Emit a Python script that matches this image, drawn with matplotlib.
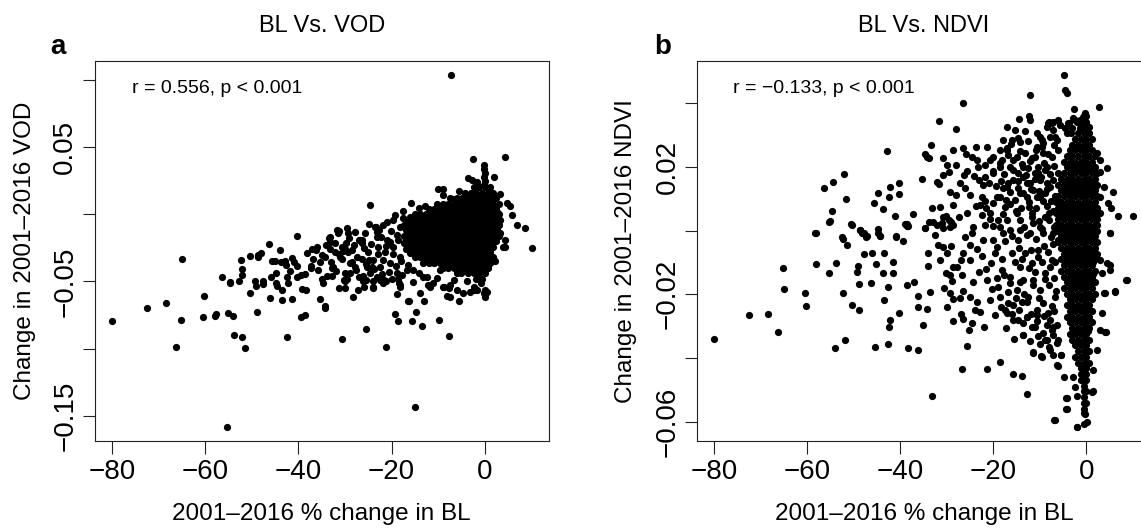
import matplotlib
matplotlib.use("Agg")
import matplotlib.pyplot as plt

plt.rcParams['font.family'] = ['Liberation Sans', 'DejaVu Sans']

# ---------------- Panel a : BL vs VOD ----------------
a_title = "BL Vs. VOD"
a_ylabel = "Change in 2001\u20132016 VOD"
a_note = "r = 0.556, p < 0.001"
a_yticks = [-0.15, -0.10, -0.05, 0.0, 0.05, 0.10]
a_yticklabels = ["\u22120.15", "", "\u22120.05", "", "0.05", ""]

a_outliers = [(-7.2, 0.1039), (-55.4, -0.158), (-14.9, -0.1436), (-80.0, -0.0794),
              (-72.5, -0.0697), (-68.5, -0.0658), (-66.3, -0.0987), (-65.2, -0.0784),
              (-65.0, -0.0335), (10.1, -0.025), (8.6, -0.0104), (4.3, 0.0429),
              (-2.6, 0.0411), (-24.6, 0.0069), (-15.8, 0.0082), (-21.1, -0.0985),
              (-30.7, -0.0926), (-25.4, -0.0851), (-42.4, -0.0913)]

a_spread = [(-60.2, -0.061), (-60.4, -0.0764), (-58.0, -0.076), (-57.8, -0.0745), (-56.4, -0.0464),
            (-55.2, -0.0733), (-54.1, -0.0757), (-54.7, -0.0501), (-54.6, -0.0513), (-53.9, -0.0898),
            (-52.1, -0.0913), (-51.4, -0.0992), (-52.7, -0.0496), (-52.4, -0.034), (-52.2, -0.0407),
            (-52.2, -0.0452), (-50.5, -0.031), (-50.5, -0.0588), (-49.4, -0.0496), (-49.2, -0.0533),
            (-49.0, -0.0729), (-48.7, -0.030), (-48.0, -0.029), (-48.6, -0.032), (-47.6, -0.050),
            (-47.6, -0.0519), (-46.3, -0.0219), (-46.2, -0.062), (-45.8, -0.0469), (-45.6, -0.0345),
            (-45.0, -0.0345), (-44.9, -0.0439), (-44.8, -0.0513), (-44.6, -0.0533), (-43.9, -0.0263),
            (-43.6, -0.0638), (-43.6, -0.0566), (-43.7, -0.0355), (-42.9, -0.0345), (-42.6, -0.038),
            (-42.5, -0.0464), (-42.2, -0.0509), (-41.8, -0.042), (-41.3, -0.0327), (-40.9, -0.0353),
            (-41.3, -0.063), (-40.3, -0.0159), (-40.3, -0.0385), (-40.4, -0.0464), (-39.2, -0.0558),
            (-38.4, -0.0566), (-39.5, -0.0764), (-38.6, -0.0747), (-38.7, -0.0446), (-37.4, -0.0387),
            (-37.3, -0.040), (-37.0, -0.026), (-36.1, -0.0241), (-36.2, -0.0266), (-35.4, -0.0357),
            (-35.4, -0.0632), (-34.9, -0.0484), (-34.7, -0.0509), (-34.3, -0.0682), (-34.2, -0.0699),
            (-34.9, -0.030), (-34.4, -0.032), (-33.9, -0.0459), (-33.5, -0.0179), (-33.2, -0.0204),
            (-33.3, -0.0258), (-32.7, -0.0397), (-32.7, -0.0457), (-31.8, -0.0117), (-31.5, -0.0141),
            (-31.2, -0.0124), (-31.4, -0.0546), (-31.2, -0.0298), (-30.5, -0.0273), (-30.0, -0.0256),
            (-29.5, -0.0104), (-29.4, -0.0137), (-29.1, -0.0179), (-29.9, -0.0494), (-29.5, -0.0479),
            (-30.0, -0.055), (-28.2, -0.0613), (-28.9, -0.0434), (-28.6, -0.0353), (-27.9, -0.039),
            (-27.3, -0.0563), (-26.8, -0.0191), (-26.4, -0.0216), (-26.1, -0.050), (-25.5, -0.0489),
            (-24.8, -0.034), (-24.3, -0.039), (-24.0, -0.055), (-23.4, -0.0097), (-23.2, -0.013),
            (-23.1, -0.0464), (-22.5, -0.0489), (-21.8, -0.0513), (-21.2, -0.050), (-19.3, -0.0742),
            (-18.6, -0.0794), (-18.8, -0.0593), (-18.7, -0.048), (-18.5, -0.051), (-18.3, -0.054),
            (-16.5, -0.0643), (-16.2, -0.0648), (-15.7, -0.0796), (-14.7, -0.0729), (-13.9, -0.0588),
            (-13.4, -0.0829), (-13.0, -0.0645), (-12.1, -0.0526), (-9.8, -0.0784), (-8.2, -0.0608),
            (-7.6, -0.055), (-7.5, -0.0526), (-7.6, -0.0903), (-5.5, -0.0643), (-1.6, -0.0563),
            (-0.1, -0.0583), (2.3, -0.0345), (4.4, -0.0246),
            (-3.5, 0.0268), (-2.8, 0.0255), (-1.7, 0.0243), (1.9, 0.028), (-10.0, 0.0186),
            (-8.9, 0.0186), (-8.9, 0.0144), (-6.9, 0.0114), (-4.2, 0.0144), (3.3, 0.0149),
            (4.7, 0.0082), (5.4, 0.0062), (5.8, -0.0005), (6.9, -0.008), (4.0, -0.0241),
            (-12.6, -0.0005), (-11.2, 0.0032), (-17.5, -0.003), (-16.0, -0.0018), (-21.8, -0.008),
            (-23.6, -0.0092), (3.3, -0.0142), (4.4, -0.0192),
            (-0.1, 0.037), (-0.1, 0.034), (0.0, 0.031), (-0.1, 0.028), (0.0, 0.025), (-0.1, 0.022),
            (-33.2, -0.0167), (-32.1, -0.0216), (-30.7, -0.0241), (-29.3, -0.0278), (-27.5, -0.0316),
            (-26.0, -0.0253), (-26.4, -0.0191), (-23.2, -0.0167), (-21.0, -0.0191), (-18.9, -0.0154),
            (-19.6, -0.0241), (-17.4, -0.0216), (-21.4, -0.0278), (-23.9, -0.034), (-25.3, -0.039),
            (-28.9, -0.0365), (-31.1, -0.0316), (-32.5, -0.039), (-30.0, -0.044), (-27.1, -0.0464),
            (-24.6, -0.044), (-22.5, -0.039), (-20.3, -0.0365), (-18.2, -0.0316), (-16.0, -0.0291),
            (-18.9, -0.044), (-16.7, -0.0415), (-21.7, -0.049), (-26.0, -0.0539), (-30.3, -0.049),
            (-23.9, -0.0539), (-18.2, -0.0527), (-15.3, -0.0502), (-11.7, -0.0539), (-8.9, -0.0539),
            (-7.4, -0.0613), (-4.6, -0.0589), (-2.4, -0.0564), (0.5, -0.0576),
            (-12.4, -0.0464), (-11.0, -0.0513), (-9.5, -0.0414), (-8.8, -0.0538), (-6.7, -0.0488),
            (-5.2, -0.0439), (-3.8, -0.05), (-2.4, -0.0538), (-0.9, -0.0513), (0.0, -0.0563),
            (0.0, -0.0612), (-10.2, -0.0476), (-5.9, -0.0563), (-3.1, -0.0575), (-1.6, -0.0464)]

a_mid = [(-34.1, -0.0232), (-33.0, -0.0355), (-31.9, -0.0420), (-30.6, -0.0332), (-29.8, -0.0214),
         (-28.4, -0.0265), (-27.7, -0.0412), (-27.0, -0.0195), (-26.3, -0.0335), (-25.8, -0.0140),
         (-25.0, -0.0281), (-24.4, -0.0222), (-23.7, -0.0410), (-23.0, -0.0296), (-22.3, -0.0172),
         (-21.8, -0.0339), (-21.1, -0.0239), (-20.6, -0.0430), (-20.1, -0.0127), (-19.6, -0.0296),
         (-19.1, -0.0385), (-18.7, -0.0195), (-18.3, -0.0093), (-20.9, -0.0057), (-19.8, -0.0042),
         (-22.6, -0.0118), (-24.9, -0.0070), (-27.9, -0.0131), (-26.2, -0.0462), (-24.1, -0.0498),
         (-22.0, -0.0442), (-19.9, -0.0481), (-17.8, -0.0455), (-16.5, -0.0378), (-15.4, -0.0412),
         (-14.2, -0.0438), (-13.3, -0.0470), (-17.9, -0.0347), (-16.9, -0.0262), (-20.4, -0.0203),
         (-22.9, -0.0245), (-25.6, -0.0368), (-28.1, -0.0229), (-32.2, -0.0281), (-35.8, -0.0418),
         (-36.9, -0.0335), (-38.1, -0.0291), (-39.4, -0.0452), (-17.6, 0.0021), (-14.1, 0.0047),
         (-10.3, 0.0078), (-7.5, 0.0120), (-5.6, 0.0175), (-12.9, 0.0061), (-19.2, -0.0005)]

a_core_rows = [
    (0.020, [-2.4, -1.2, 0.0, 1.2]),
    (0.016, [-4.2, -3.0, -1.8, -0.6, 0.6, 1.8]),
    (0.012, [-6.0, -4.8, -3.6, -2.4, -1.2, 0.0, 1.2, 2.4]),
    (0.008, [-9.0, -7.8, -6.6, -5.4, -4.2, -3.0, -1.8, -0.6, 0.6, 1.8, 3.0]),
    (0.004, [-12.0, -10.8, -9.6, -8.4, -7.2, -6.0, -4.8, -3.6, -2.4, -1.2, 0.0, 1.2, 2.4]),
    (0.000, [-15.0, -13.8, -12.6, -11.4, -10.2, -9.0, -7.8, -6.6, -5.4, -4.2, -3.0, -1.8, -0.6, 0.6, 1.8, 3.0]),
    (-0.004, [-16.8, -15.6, -14.4, -13.2, -12.0, -10.8, -9.6, -8.4, -7.2, -6.0, -4.8, -3.6, -2.4, -1.2, 0.0, 1.2, 2.4, 3.3]),
    (-0.008, [-17.4, -16.2, -15.0, -13.8, -12.6, -11.4, -10.2, -9.0, -7.8, -6.6, -5.4, -4.2, -3.0, -1.8, -0.6, 0.6, 1.8, 3.0]),
    (-0.012, [-16.8, -15.6, -14.4, -13.2, -12.0, -10.8, -9.6, -8.4, -7.2, -6.0, -4.8, -3.6, -2.4, -1.2, 0.0, 1.2, 2.4]),
    (-0.016, [-17.4, -16.2, -15.0, -13.8, -12.6, -11.4, -10.2, -9.0, -7.8, -6.6, -5.4, -4.2, -3.0, -1.8, -0.6, 0.6, 1.8, 3.0]),
    (-0.020, [-16.8, -15.6, -14.4, -13.2, -12.0, -10.8, -9.6, -8.4, -7.2, -6.0, -4.8, -3.6, -2.4, -1.2, 0.0, 1.2, 2.4]),
    (-0.024, [-16.2, -15.0, -13.8, -12.6, -11.4, -10.2, -9.0, -7.8, -6.6, -5.4, -4.2, -3.0, -1.8, -0.6, 0.6, 1.8]),
    (-0.028, [-15.6, -14.4, -13.2, -12.0, -10.8, -9.6, -8.4, -7.2, -6.0, -4.8, -3.6, -2.4, -1.2, 0.0, 1.2]),
    (-0.032, [-15.0, -13.8, -12.6, -11.4, -10.2, -9.0, -7.8, -6.6, -5.4, -4.2, -3.0, -1.8, -0.6, 0.6, 1.8]),
    (-0.036, [-13.2, -12.0, -10.8, -9.6, -8.4, -7.2, -6.0, -4.8, -3.6, -2.4, -1.2, 0.0, 1.2]),
    (-0.040, [-9.0, -7.8, -6.6, -5.4, -4.2, -3.0, -1.8, -0.6, 0.6]),
    (-0.044, [-6.0, -3.6, -2.4, -1.2, 0.0]),
    (-0.048, [-1.8, -0.6]),
    # in-between points of the solid cloud
    (0.010, [-5.7, -4.5, -3.3, -2.1, -0.9, 0.3, 1.5]),
    (0.006, [-8.7, -7.5, -6.3, -5.1, -3.9, -2.7, -1.5, -0.3, 0.9, 2.1]),
    (0.002, [-11.7, -10.5, -9.3, -8.1, -6.9, -5.7, -4.5, -3.3, -2.1, -0.9, 0.3, 1.5, 2.7]),
    (-0.002, [-14.7, -13.5, -12.3, -11.1, -9.9, -8.7, -7.5, -6.3, -5.1, -3.9, -2.7, -1.5, -0.3, 0.9, 2.1]),
    (-0.006, [-16.5, -15.3, -14.1, -12.9, -11.7, -10.5, -9.3, -8.1, -6.9, -5.7, -4.5, -3.3, -2.1, -0.9, 0.3, 1.5, 2.7]),
    (-0.010, [-16.5, -15.3, -14.1, -12.9, -11.7, -10.5, -9.3, -8.1, -6.9, -5.7, -4.5, -3.3, -2.1, -0.9, 0.3, 1.5, 2.7]),
    (-0.014, [-16.5, -15.3, -14.1, -12.9, -11.7, -10.5, -9.3, -8.1, -6.9, -5.7, -4.5, -3.3, -2.1, -0.9, 0.3, 1.5, 2.7]),
    (-0.018, [-16.5, -15.3, -14.1, -12.9, -11.7, -10.5, -9.3, -8.1, -6.9, -5.7, -4.5, -3.3, -2.1, -0.9, 0.3, 1.5, 2.1]),
    (-0.022, [-15.9, -14.7, -13.5, -12.3, -11.1, -9.9, -8.7, -7.5, -6.3, -5.1, -3.9, -2.7, -1.5, -0.3, 0.9, 1.5]),
    (-0.026, [-15.3, -14.1, -12.9, -11.7, -10.5, -9.3, -8.1, -6.9, -5.7, -4.5, -3.3, -2.1, -0.9, 0.3, 0.9]),
    (-0.030, [-14.7, -13.5, -12.3, -11.1, -9.9, -8.7, -7.5, -6.3, -5.1, -3.9, -2.7, -1.5, -0.3, 0.9]),
    (-0.034, [-12.9, -11.7, -10.5, -9.3, -8.1, -6.9, -5.7, -4.5, -3.3, -2.1, -0.9, 0.3, 0.9]),
    (-0.038, [-8.7, -7.5, -6.3, -5.1, -3.9, -2.7, -1.5, -0.3, 0.3]),
]

# ---------------- Panel b : BL vs NDVI ----------------
b_title = "BL Vs. NDVI"
b_ylabel = "Change in 2001\u20132016 NDVI"
b_note = "r = \u22120.133, p < 0.001"
b_yticks = [-0.06, -0.04, -0.02, 0.0, 0.02, 0.04]
b_yticklabels = ["\u22120.06", "", "\u22120.02", "", "0.02", ""]

b_spread = [(-4.86, 0.0489), (-4.50, 0.0441), (-4.22, 0.0433), (-12.09, 0.0425), (-26.42, 0.0401),
            (-2.57, 0.0383), (2.66, 0.0389), (-31.71, 0.0345), (-27.99, 0.0319), (-14.38, 0.0349),
            (-12.24, 0.036), (-12.09, 0.0347), (-42.74, 0.0249), (-51.98, 0.0179), (-54.49, 0.0151),
            (-56.28, 0.0135), (-51.69, 0.0100), (-54.56, 0.0063), (-55.13, 0.0029), (-50.55, 0.0020),
            (-48.61, 0.0002), (-48.11, -0.0006), (-47.33, -0.0019), (-58.21, -0.0009), (-44.82, 0.0119),
            (-45.53, 0.0088), (-43.75, 0.0067), (-42.45, 0.0106), (-42.17, 0.0137), (-40.31, 0.0116),
            (-40.16, 0.0148), (-41.02, 0.0047), (-38.95, 0.0021), (-38.45, 0.0016), (-37.30, 0.0052),
            (-44.67, -0.0009), (-44.32, -0.0017), (-40.88, -0.0019), (-35.22, 0.0162), (-34.58, 0.0240),
            (-34.29, 0.023), (-33.72, 0.0227), (-33.43, 0.0267), (-32.14, 0.0151), (-31.57, 0.0146),
            (-30.85, 0.0227), (-29.99, 0.0206), (-30.71, 0.0174), (-28.56, 0.0253), (-29.28, 0.0122),
            (-33.22, 0.0070), (-31.43, 0.0075), (-30.85, 0.0044), (-30.14, 0.0046), (-32.14, 0.0018),
            (-30.71, 0.0009), (-29.28, 0.0012), (-29.14, 0.0028), (-28.56, 0.0081), (-34.65, 0.0007),
            (-33.72, 0.0028), (-32.50, -0.0014), (-27.13, 0.0148), (-26.06, 0.0133), (-24.98, 0.0112),
            (-26.56, 0.0258), (-25.84, 0.0239), (-24.62, 0.0232), (-23.55, 0.0221), (-23.19, 0.0201),
            (-21.76, 0.0206), (-20.69, 0.0221), (-19.97, 0.0232), (-18.54, 0.0253), (-17.10, 0.0258),
            (-16.75, 0.0237), (-15.32, 0.0317), (-14.60, 0.0289), (-14.24, 0.0279), (-10.66, 0.0305),
            (-9.59, 0.0285), (-8.51, 0.0326), (-8.15, 0.0337), (-7.08, 0.0342), (-6.00, 0.0347),
            (-5.64, 0.0331), (-3.85, 0.0337), (-2.43, 0.0347), (-1.71, 0.0342), (-0.64, 0.0357),
            (-0.28, 0.0368), (-26.27, 0.0176), (-24.12, 0.0171), (-22.98, 0.0159), (-22.26, 0.0143),
            (-21.76, 0.0169), (-23.69, 0.0076), (-22.83, 0.0081), (-21.55, 0.007), (-20.69, 0.0054),
            (-19.97, 0.0088), (-19.25, 0.0107), (-17.82, 0.0133), (-16.75, 0.0148), (-15.67, 0.0159),
            (-14.60, 0.0133), (-13.52, 0.0169), (-12.09, 0.0148), (-11.02, 0.018), (-9.95, 0.0159),
            (4.4, 0.0196), (5.8, 0.0122), (4.7, 0.0086), (5.4, 0.007), (6.9, 0.0046), (10.1, 0.0046),
            (5.0, -0.0006), (3.7, 0.0138), (3.0, 0.0185), (2.9, 0.0107), (2.3, 0.0065), (2.3, 0.0018),
            (-17.8, 0.0284), (-17.1, 0.0253), (-18.5, 0.0211), (-16.4, 0.0201), (-14.9, 0.0232),
            (-14.6, 0.018), (-17.1, 0.0138), (-18.5, 0.0106), (-16.4, 0.0085), (-14.2, 0.0117),
            (-12.8, 0.0148), (-13.5, 0.0201), (-11.7, 0.0227), (-10.6, 0.0263), (-9.9, 0.0295),
            (-9.2, 0.0242), (-8.5, 0.0201), (-10.3, 0.018), (-11.4, 0.0127), (-9.9, 0.0106),
            (-12.4, 0.0075), (-14.9, 0.0054), (-17.1, 0.0033), (-18.5, 0.0012), (-14.2, 0.0002),
            (-11.4, 0.0023), (-9.2, -0.0009), (-8.1, 0.0054), (-8.5, 0.0148), (-7.8, 0.0295),
            (-7.1, 0.0316), (-6.3, 0.0284), (-6.0, 0.0253), (-7.4, 0.0337), (-8.1, 0.0342),
            (-4.2, 0.0305), (-3.1, 0.0321), (-3.8, 0.0337), (-2.1, 0.0342), (-1.3, 0.0347),
            (-2.8, 0.0352), (2.2, 0.0242), (3.0, 0.0221), (1.5, 0.0201),
            (-25.7, 0.0054), (-24.3, 0.0012), (-22.5, 0.0106), (-21.0, 0.0148), (-20.0, 0.018),
            (-18.9, 0.0033), (-18.5, 0.0201), (-17.5, 0.0075), (-16.4, 0.0002), (-15.7, 0.0221),
            (-15.3, 0.0096), (-14.2, 0.0033), (-13.2, 0.0242), (-12.8, 0.0106), (-12.5, 0.0196),
            (-11.7, 0.0054), (-11.0, 0.0232), (-10.7, 0.0106), (-10.0, 0.0012), (-9.2, 0.0274),
            (-8.9, 0.0190), (-8.5, 0.0076), (-7.8, 0.0138), (-7.4, 0.0232), (-7.1, -0.0009),
            (-6.7, 0.0295), (-6.4, 0.0096), (-6.0, 0.018), (-17.1, 0.0326), (-16.0, 0.0285),
            (-13.2, 0.0311), (-4.6, 0.0321), (-3.2, 0.0305), (-1.3, 0.0321)]

b_lower = [(-57.99, -0.0008), (-55.20, 0.0028), (-50.40, 0.0018), (-52.55, -0.0019), (-52.19, -0.0027),
           (-51.34, -0.0045), (-48.61, 0.0002), (-47.76, -0.0008), (-47.18, -0.0017), (-44.67, 0.0004),
           (-44.32, -0.0017), (-40.88, -0.0017), (-39.31, -0.0034), (-38.59, 0.0021), (-38.23, 0.0015),
           (-34.65, 0.0008), (-47.76, -0.0073), (-46.04, -0.0069), (-43.46, -0.0069), (-57.99, -0.0105),
           (-53.84, -0.0102), (-55.35, -0.0132), (-65.09, -0.0116), (-64.87, -0.0182), (-48.97, -0.0111),
           (-49.33, -0.0129), (-45.18, -0.0105), (-43.75, -0.0132), (-41.60, -0.0132), (-41.45, -0.0097),
           (-48.90, -0.0168), (-46.32, -0.0164), (-52.27, -0.0197), (-50.40, -0.0234), (-48.83, -0.0249),
           (-60.36, -0.0197), (-60.14, -0.0237), (-72.39, -0.0266), (-68.45, -0.0262), (-66.16, -0.0318),
           (-79.91, -0.0341), (-54.06, -0.0367), (-51.84, -0.0344), (-45.46, -0.0364), (-42.53, -0.0355),
           (-38.30, -0.0367), (-36.23, -0.0375), (-42.67, -0.0178), (-43.46, -0.0219), (-42.17, -0.028),
           (-42.31, -0.0301), (-40.24, -0.0257), (-38.59, -0.0172), (-37.01, -0.0162), (-36.08, -0.0205),
           (-36.08, -0.024), (-34.29, -0.0245), (-35.15, -0.0297), (-33.51, -0.0191), (-34.08, -0.0110),
           (-34.08, -0.0069), (-31.50, -0.0092), (-29.85, -0.0071), (-29.14, -0.0048), (-30.57, -0.0179),
           (-29.28, -0.0197), (-28.56, -0.0214), (-27.13, -0.0212), (-28.71, -0.0284), (-26.42, -0.0277),
           (-25.70, -0.0361), (-26.77, -0.0434), (-33.15, -0.0518), (-21.26, -0.0435), (-18.47, -0.0411),
           (-15.67, -0.0451), (-13.74, -0.0456), (-12.74, -0.0512), (-13.67, -0.0327), (-11.38, -0.0381),
           (-9.73, -0.0393), (-6.15, -0.0424), (-5.44, -0.0389), (-4.36, -0.0526), (-4.36, -0.0559),
           (-6.87, -0.0594), (-2.07, -0.0615), (-0.49, -0.0607), (1.51, -0.0502), (4.23, -0.0317),
           (6.17, -0.019), (8.53, -0.0155), (5.09, -0.0008), (5.09, -0.0107), (4.02, -0.0197),
           (-32.9, 0.0028), (-31.1, 0.0023), (-29.6, 0.0034), (-28.6, 0.0018), (-31.8, -0.0045),
           (-30.7, -0.005), (-30.1, -0.0134), (-29.3, -0.0139), (-28.6, -0.0113), (-27.8, -0.0113),
           (-26.9, -0.0092), (-26.4, -0.0071),
           (-26.77, -0.0139), (-26.42, -0.0189), (-24.98, -0.0045), (-24.98, -0.0092), (-24.98, -0.0207),
           (-24.63, -0.0008), (-24.27, -0.0160), (-23.55, -0.0223), (-23.91, -0.0249), (-22.83, -0.0254),
           (-22.48, -0.0081), (-22.12, -0.0029), (-21.76, 0.0018), (-21.40, -0.0155), (-20.69, -0.0217),
           (-20.54, -0.0102), (-19.97, 0.0013), (-19.97, -0.0029), (-19.61, -0.0071), (-19.25, -0.0149),
           (-18.89, -0.0176), (-18.54, -0.0207), (-18.18, -0.0123), (-17.82, -0.0008), (-17.46, -0.0249),
           (-17.10, -0.0259), (-16.75, -0.0228), (-16.39, -0.0165), (-16.03, -0.0071), (-15.67, -0.028),
           (-14.96, -0.0186), (-14.60, -0.0029), (-14.24, -0.0113), (-13.88, -0.0223), (-13.52, -0.0155),
           (-13.17, -0.0071), (-12.81, -0.027), (-12.45, -0.0207), (-12.09, -0.0008), (-11.74, -0.0102),
           (-11.38, -0.0155), (-11.02, -0.0301), (-10.66, -0.0249), (-10.30, -0.0060), (-9.95, -0.0186),
           (-9.23, -0.0322), (-8.87, -0.0134), (-8.51, -0.0343), (-8.15, -0.0259), (-7.80, -0.0374),
           (-7.44, -0.0092), (-7.08, -0.0301), (-6.72, -0.0207), (-6.36, -0.0353), (-6.00, -0.0029),
           (-15.7, -0.0233), (-14.6, -0.028), (-13.5, -0.0327), (-12.8, -0.0270), (-11.7, -0.0301),
           (-11.4, -0.0385), (-10.6, -0.0264), (-10.3, -0.0332), (-9.6, -0.0395), (-8.9, -0.0343),
           (-8.5, -0.0296), (-8.1, -0.0364), (-7.4, -0.0311), (-7.1, -0.039), (-6.3, -0.0421),
           (-6.0, -0.0343), (-5.5, -0.039), (-4.9, -0.0458), (-4.2, -0.0526), (-4.2, -0.056),
           (-2.8, -0.0458), (-2.4, -0.0489), (-2.1, -0.052), (-6.8, -0.0594), (-0.5, -0.0542),
           (-0.6, -0.0573), (0.1, -0.0599), (-2.0, -0.0616), (1.2, -0.0505), (1.5, -0.0437),
           (2.2, -0.0374), (3.0, -0.0311), (3.3, -0.0259), (4.0, -0.0317), (3.7, -0.0196),
           (5.0, -0.0123), (6.2, -0.0191), (8.7, -0.0155), (3.3, -0.0134), (3.0, -0.0092), (4.4, -0.0102)]

b_mid = [(-21.3, 0.0262), (-20.1, 0.0187), (-19.4, 0.0141), (-21.8, 0.0093), (-20.6, 0.0035),
         (-19.2, -0.0052), (-21.5, -0.0121), (-20.2, -0.0183), (-19.6, -0.0264), (-21.9, -0.0301),
         (-18.1, 0.0222), (-17.6, 0.0178), (-18.3, 0.0157), (-17.2, 0.0097), (-18.0, 0.0051),
         (-17.4, -0.0033), (-18.2, -0.0088), (-17.7, -0.0139), (-16.9, -0.0192), (-18.4, -0.0241),
         (-17.3, -0.0305), (-16.2, 0.0271), (-15.8, 0.0189), (-16.5, 0.0121), (-15.1, 0.0063),
         (-15.9, -0.0018), (-15.4, -0.0098), (-16.3, -0.0147), (-15.2, -0.0211), (-16.0, -0.0262),
         (-15.5, -0.0339), (-14.3, 0.0251), (-13.9, 0.0208), (-14.7, 0.0156), (-13.6, 0.0119),
         (-14.1, 0.0072), (-13.4, 0.0011), (-14.5, -0.0053), (-13.8, -0.0089), (-14.2, -0.0162),
         (-13.3, -0.0199), (-14.4, -0.0248), (-13.5, -0.0291), (-12.6, 0.0282), (-12.1, 0.0218),
         (-12.9, 0.0176), (-11.8, 0.0131), (-12.4, 0.0089), (-11.6, 0.0042), (-12.7, -0.0014),
         (-11.9, -0.0061), (-12.3, -0.0118), (-11.5, -0.0171), (-12.8, -0.0223), (-11.9, -0.0262),
         (-12.2, -0.0345), (-10.9, 0.0253), (-10.4, 0.0199), (-11.1, 0.0161), (-10.2, 0.0124),
         (-10.8, 0.0071), (-10.1, 0.0031), (-10.9, -0.0027), (-10.3, -0.0083), (-11.0, -0.0131),
         (-10.2, -0.0212), (-10.7, -0.0285), (-10.0, -0.0355), (-9.5, 0.0262), (-9.1, 0.0213),
         (-9.7, 0.0169), (-8.9, 0.0119), (-9.4, 0.0093), (-8.8, 0.0043), (-9.6, 0.0004),
         (-9.0, -0.0047), (-9.5, -0.0098), (-8.8, -0.0151), (-9.3, -0.0227), (-9.0, -0.0268),
         (-8.2, 0.0241), (-7.8, 0.0179), (-8.4, 0.0131), (-7.6, 0.0094), (-8.1, 0.0032),
         (-7.5, -0.0019), (-8.3, -0.0068), (-7.7, -0.0113), (-8.0, -0.0172), (-7.4, -0.0236),
         (-7.9, -0.0281), (-7.2, -0.0327), (-7.0, 0.0268), (-6.9, 0.0204), (-7.2, 0.0158),
         (-6.8, 0.0109), (-7.1, 0.0061), (-6.9, 0.0012), (-7.2, -0.0041), (-6.7, -0.0097),
         (-7.0, -0.0148), (-6.6, -0.0188), (-6.9, -0.0253), (-6.2, -0.0297),
         (-29.5, 0.0185), (-28.1, 0.0112), (-27.4, 0.0043), (-26.0, -0.0021), (-28.8, -0.0158),
         (-27.0, -0.0262), (-25.2, -0.0312), (-23.8, 0.0263), (-23.0, -0.0131), (-24.6, -0.0289),
         (-22.4, 0.0048), (-29.9, -0.0241), (-28.0, 0.0207), (-25.6, 0.0187), (-23.5, -0.0058)]

b_core_rows = [
    (0.0360, [-0.6, 0.0]),
    (0.0342, [-1.2, -0.6, 0.0]),
    (0.0324, [-1.2, 0.0, 0.6]),
    (0.0306, [-1.8, -0.6, 0.6]),
    (0.0288, [-2.4, -1.2, 0.0, 1.2]),
    (0.0270, [-3.0, -1.8, -0.6, 0.6]),
    (0.0252, [-3.6, -2.4, -1.2, 0.0, 1.2]),
    (0.0234, [-4.2, -3.0, -1.8, -0.6, 0.6, 1.8]),
    (0.0216, [-4.8, -3.6, -2.4, -1.2, 0.0, 1.2]),
    (0.0198, [-4.2, -3.0, -1.8, -0.6, 0.6, 1.8]),
    (0.0180, [-4.8, -3.6, -2.4, -1.2, 0.0, 1.2, 2.4]),
    (0.0162, [-5.4, -4.2, -3.0, -1.8, -0.6, 0.6, 1.8]),
    (0.0144, [-6.0, -4.8, -3.6, -2.4, -1.2, 0.0, 1.2, 2.4]),
    (0.0126, [-5.4, -4.2, -3.0, -1.8, -0.6, 0.6, 1.8]),
    (0.0108, [-6.0, -4.8, -3.6, -2.4, -1.2, 0.0, 1.2, 2.4]),
    (0.0090, [-6.6, -5.4, -4.2, -3.0, -1.8, -0.6, 0.6, 1.8]),
    (0.0072, [-6.0, -4.8, -3.6, -2.4, -1.2, 0.0, 1.2, 2.4]),
    (0.0054, [-6.6, -5.4, -4.2, -3.0, -1.8, -0.6, 0.6, 1.8, 3.0]),
    (0.0036, [-6.0, -4.8, -3.6, -2.4, -1.2, 0.0, 1.2, 2.4]),
    (0.0018, [-6.6, -5.4, -4.2, -3.0, -1.8, -0.6, 0.6, 1.8]),
    (0.0000, [-6.0, -4.8, -3.6, -2.4, -1.2, 0.0, 1.2, 2.4]),
    (-0.0018, [-5.4, -4.2, -3.0, -1.8, -0.6, 0.6, 1.8]),
    (-0.0036, [-6.0, -4.8, -3.6, -2.4, -1.2, 0.0, 1.2, 2.4]),
    (-0.0054, [-5.4, -4.2, -3.0, -1.8, -0.6, 0.6, 1.8]),
    (-0.0072, [-4.8, -3.6, -2.4, -1.2, 0.0, 1.2, 2.4]),
    (-0.0090, [-5.4, -4.2, -3.0, -1.8, -0.6, 0.6, 1.8]),
    (-0.0108, [-4.8, -3.6, -2.4, -1.2, 0.0, 1.2]),
    (-0.0126, [-5.4, -4.2, -3.0, -1.8, -0.6, 0.6, 1.8]),
    (-0.0144, [-4.8, -3.6, -2.4, -1.2, 0.0, 1.2]),
    (-0.0162, [-4.2, -3.0, -1.8, -0.6, 0.6, 1.8]),
    (-0.0180, [-4.8, -3.6, -2.4, -1.2, 0.0, 1.2]),
    (-0.0198, [-4.2, -3.0, -1.8, -0.6, 0.6, 1.8]),
    (-0.0216, [-3.6, -2.4, -1.2, 0.0, 1.2]),
    (-0.0234, [-4.2, -3.0, -1.8, -0.6, 0.6]),
    (-0.0252, [-3.6, -2.4, -1.2, 0.0, 1.2]),
    (-0.0270, [-4.2, -3.0, -1.8, -0.6, 0.6]),
    (-0.0288, [-3.6, -2.4, -1.2, 0.0, 1.2]),
    (-0.0306, [-3.0, -1.8, -0.6, 0.6]),
    (-0.0324, [-3.6, -2.4, -1.2, 0.0]),
    (-0.0342, [-3.0, -1.8, -0.6, 0.6]),
    (-0.0360, [-2.4, -1.2, 0.0]),
    (-0.0378, [-1.8, -0.6, 0.6]),
    (-0.0396, [-2.4, -1.2, 0.0]),
    (-0.0414, [-1.8, -0.6, 0.6]),
    (-0.0432, [-1.2, 0.0]),
    (-0.0450, [-1.2, -0.6, 0.0]),
    (-0.0468, [-1.2, 0.0]),
    (-0.0486, [-0.6]),
    (-0.0504, [-0.6, 0.0]),
    (-0.0522, [-0.6]),
    (-0.0540, [0.0]),
    (-0.0558, [-0.6]),
    (-0.0576, [-0.3]),
    # in-between points of the solid band
    (0.0189, [-3.3, -2.1, -0.9, 0.3, 1.5]),
    (0.0153, [-4.5, -3.3, -2.1, -0.9, 0.3, 1.5]),
    (0.0117, [-4.5, -3.3, -2.1, -0.9, 0.3, 1.5]),
    (0.0081, [-5.7, -4.5, -3.3, -2.1, -0.9, 0.3, 1.5]),
    (0.0045, [-5.7, -4.5, -3.3, -2.1, -0.9, 0.3, 1.5]),
    (0.0009, [-5.7, -4.5, -3.3, -2.1, -0.9, 0.3, 1.5]),
    (-0.0027, [-4.5, -3.3, -2.1, -0.9, 0.3, 1.5]),
    (-0.0063, [-4.5, -3.3, -2.1, -0.9, 0.3, 1.5]),
    (-0.0099, [-4.5, -3.3, -2.1, -0.9, 0.3, 1.5]),
    (-0.0135, [-3.3, -2.1, -0.9, 0.3, 1.5]),
    (-0.0171, [-3.3, -2.1, -0.9, 0.3, 0.9]),
    (-0.0207, [-3.3, -2.1, -0.9, 0.3]),
    (-0.0243, [-3.3, -2.1, -0.9, 0.3]),
    (-0.0279, [-2.1, -0.9, 0.3]),
    (-0.0315, [-2.1, -0.9, 0.3]),
]

xlabel = "2001\u20132016 % change in BL"
xticks = [-80, -60, -40, -20, 0]
xticklabels = ["\u221280", "\u221260", "\u221240", "\u221220", "0"]


def collect(groups, rows):
    xs, ys = [], []
    for g in groups:
        for x, y in g:
            xs.append(x)
            ys.append(y)
    for y, row in rows:
        for x in row:
            xs.append(x)
            ys.append(y)
    return xs, ys


W, H = 1141, 530
fig = plt.figure(figsize=(W / 100, H / 100), dpi=100)


def px(x):
    return x / W


def py(y):
    return 1 - y / H


panels = [
    dict(left=95, x=collect([a_outliers, a_spread, a_mid], a_core_rows), xlim=(-83.7, 13.7),
         ylim=(-0.1685, 0.1143), yticks=a_yticks, ytl=a_yticklabels, title=a_title,
         ylabel=a_ylabel, note=a_note, letter="a", letter_x=58, ylab_x=25.5, note_x=131.7),
    dict(left=697.3, x=collect([b_spread, b_lower, b_mid], b_core_rows), xlim=(-83.57, 13.85),
         ylim=(-0.0659, 0.0533), yticks=b_yticks, ytl=b_yticklabels, title=b_title,
         ylabel=b_ylabel, note=b_note, letter="b", letter_x=663, ylab_x=626, note_x=733.3),
]

ax_w, ax_top, ax_bot = 453.5, 60.7, 440.7
for p in panels:
    ax = fig.add_axes([px(p["left"]), py(ax_bot), px(ax_w), (ax_bot - ax_top) / H])
    xs, ys = p["x"]
    ax.plot(xs, ys, 'o', color='black', ms=5.2, mec='none', clip_on=True)
    ax.set_xlim(*p["xlim"])
    ax.set_ylim(*p["ylim"])
    ax.set_xticks(xticks)
    ax.set_xticklabels(xticklabels)
    ax.set_yticks(p["yticks"])
    ax.set_yticklabels(p["ytl"])
    for s in ax.spines.values():
        s.set_linewidth(0.8)
        s.set_color('#222222')
    ax.tick_params(axis='both', direction='out', length=9, width=0.8, color='#222222',
                   labelsize=20)
    ax.tick_params(axis='x', pad=4)
    ax.tick_params(axis='y', pad=3, labelrotation=90)
    for lab in ax.get_yticklabels():
        lab.set_va('center')
    cx = p["left"] + ax_w / 2
    fig.text(px(cx), py(32.3), p["title"], ha='center', va='baseline', fontsize=17)
    fig.text(px(p["letter_x"]), py(54), p["letter"], ha='center', va='baseline',
             fontsize=20, fontweight='bold')
    fig.text(px(cx), py(520), xlabel, ha='center', va='baseline', fontsize=17.5)
    fig.text(px(p["ylab_x"]), py(250.7), p["ylabel"], ha='center', va='center',
             rotation=90, fontsize=17.5)
    fig.text(px(p["note_x"]), py(93.3), p["note"], ha='left', va='baseline', fontsize=14)

fig.savefig("out.png", dpi=100)
